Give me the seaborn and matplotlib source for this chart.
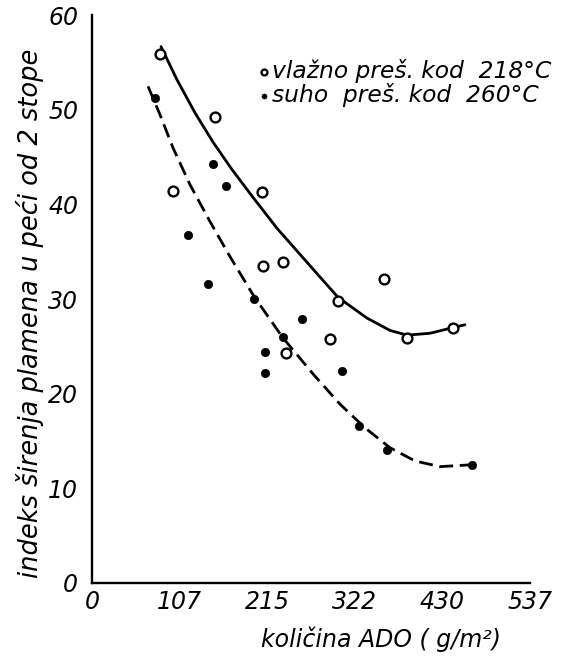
import seaborn as sns
import matplotlib.pyplot as plt
import pandas as pd

# values
wet_x = [83.4, 150.8, 99.3, 208.4, 209.7, 234.2, 237.9, 301.6, 291.8, 358.0, 386.2, 442.6]
wet_y = [55.9, 49.3, 41.4, 41.3, 33.5, 33.9, 24.3, 29.8, 25.8, 32.1, 25.9, 27.0]

dry_x = [77.2, 148.4, 164.3, 117.7, 142.2, 198.6, 257.5, 234.2, 212.1, 212.1, 306.5, 327.4, 361.7, 465.9]
dry_y = [51.3, 44.3, 42.0, 36.8, 31.6, 30.0, 27.9, 26.0, 24.4, 22.2, 22.4, 16.6, 14.1, 12.5]

# hand drawn trend curves
wet_curve_x = [84.6, 104.2, 126.3, 148.4, 171.7, 196.2, 226.8, 263.6, 301.6, 337.2, 365.4, 386.2, 414.4, 442.6, 457.3]
wet_curve_y = [56.7, 53.2, 49.7, 46.6, 43.7, 40.9, 37.5, 33.9, 30.2, 28.0, 26.7, 26.2, 26.4, 27.0, 27.3]
dry_curve_x = [68.7, 83.4, 99.3, 120.2, 144.7, 169.2, 198.6, 234.2, 271.0, 304.1, 334.7, 365.4, 396.0, 426.7, 465.9]
dry_curve_y = [52.5, 49.5, 46.0, 42.1, 38.2, 34.5, 30.3, 25.9, 22.1, 18.9, 16.4, 14.3, 12.9, 12.3, 12.5]

x_ticks = [0, 107.4, 214.8, 322.2, 429.6, 537]
x_labels = ["0", "107", "215", "322", "430", "537"]
y_ticks = [0, 10, 20, 30, 40, 50, 60]

sns.set_style("white")
plt.rcParams['font.family'] = ['DejaVu Sans']
plt.rcParams['font.style'] = 'italic'
plt.rcParams['text.color'] = 'black'
plt.rcParams['axes.labelcolor'] = 'black'
plt.rcParams['xtick.color'] = 'black'
plt.rcParams['ytick.color'] = 'black'

fig = plt.figure(figsize=(5.85, 6.71), dpi=100)
ax = fig.add_axes([92 / 585, 1 - 583 / 671, 438 / 585, 567.6 / 671])

wet = pd.DataFrame({"x": wet_x, "y": wet_y})
dry = pd.DataFrame({"x": dry_x, "y": dry_y})

sns.lineplot(x=wet_curve_x, y=wet_curve_y, color="black", lw=2.0, estimator=None, sort=False, ax=ax)
sns.lineplot(x=dry_curve_x, y=dry_curve_y, color="black", lw=2.0, estimator=None, sort=False, ax=ax,
             linestyle=(0, (5, 2.4)))

sns.scatterplot(data=wet, x="x", y="y", marker="o", s=50, facecolor="white", edgecolor="black",
                linewidth=1.7, ax=ax, label="vlažno preš. kod  218°C", zorder=5)
sns.scatterplot(data=dry, x="x", y="y", marker="o", s=36, color="black", edgecolor="black",
                ax=ax, label="suho  preš. kod  260°C", zorder=5)

ax.set_xlim(0, 537)
ax.set_ylim(0, 60)
ax.set_xticks(x_ticks)
ax.set_xticklabels(x_labels)
ax.set_yticks(y_ticks)
sns.despine(ax=ax)
for s in ["left", "bottom"]:
    ax.spines[s].set_linewidth(1.7)
    ax.spines[s].set_color("black")
ax.tick_params(axis="x", direction="in", length=6, width=1.5, pad=5, labelsize=17)
ax.tick_params(axis="y", direction="out", length=5, width=1.5, pad=5, labelsize=17)

ax.set_xlabel("količina ADO ( g/m²)", fontsize=17)
ax.set_ylabel("indeks širenja plamena u peći od 2 stope", fontsize=18.5)
ax.xaxis.set_label_coords(0.66, -0.076)
ax.yaxis.set_label_coords(-0.11, 0.475)

leg = ax.legend(loc="upper left", bbox_to_anchor=(257 / 585, 1 - 59 / 671), bbox_transform=fig.transFigure,
                frameon=False, fontsize=16.8, handletextpad=0.05, handlelength=0.6, labelspacing=0.0,
                markerscale=0.6, borderpad=0, borderaxespad=0)

plt.savefig("out.png", dpi=100)
